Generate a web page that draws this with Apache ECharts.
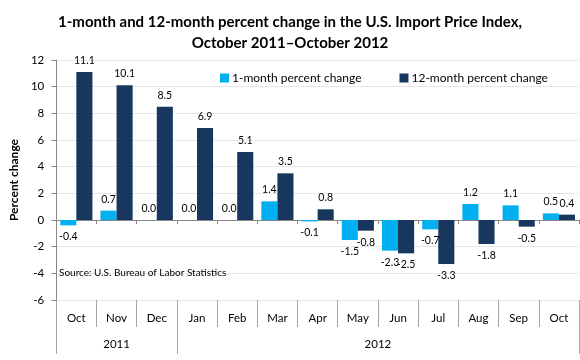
<!DOCTYPE html>
<html><head><meta charset="utf-8">
<script src="https://cdn.jsdelivr.net/npm/echarts@6/dist/echarts.min.js"></script>
<style>html,body{margin:0;padding:0;background:#fff}#c{width:580px;height:360px}</style>
</head><body><div id="c"></div>
<script>
const months = ['Oct','Nov','Dec','Jan','Feb','Mar','Apr','May','Jun','Jul','Aug','Sep','Oct'];
const yearNames = ['2011','2012'];
const yearStart = [0, 3];   // category index where each year starts
const yearEnd = [3, 13];
const oneMonth = [-0.4, 0.7, 0.0, 0.0, 0.0, 1.4, -0.1, -1.5, -2.3, -0.7, 1.2, 1.1, 0.5];
const twelveMonth = [11.1, 10.1, 8.5, 6.9, 5.1, 3.5, 0.8, -0.8, -2.5, -3.3, -1.8, -0.5, 0.4];
const yTicks = {min: -6, max: 12, interval: 2};

// half-step axis for year grouping (boundaryGap false, 0..13 in 0.5 steps)
const halfSteps = [];
for (let k = 0; k <= months.length * 2; k++) halfSteps.push('');
const tickSet = new Set(), labelMap = {};
yearNames.forEach((y, i) => {
  tickSet.add(yearStart[i] * 2); tickSet.add(yearEnd[i] * 2);
  const mid = yearStart[i] + yearEnd[i];
  labelMap[mid] = y; halfSteps[mid] = y;
});

const font = 'Lato, "Open Sans", sans-serif';
const lab = v => ({value: v, label: {position: v < 0 ? 'bottom' : 'top'}});
const chart = echarts.init(document.getElementById('c'), null, {renderer: 'canvas'});
chart.setOption({
  animation: false,
  textStyle: {fontFamily: font},
  title: [{
    text: '1-month and 12-month percent change in the U.S. Import Price Index,\nOctober 2011\u2013October 2012',
    left: 'center', top: 7,
    textStyle: {fontSize: 15, fontWeight: 'bold', color: '#000', lineHeight: 21, fontFamily: font}
  }, {
    text: 'Source: U.S. Bureau of Labor Statistics',
    left: 54, top: 263,
    textStyle: {fontSize: 10, fontWeight: 'normal', color: '#000', fontFamily: font}
  }],
  legend: {
    top: 67, left: 215, itemWidth: 9, itemHeight: 9, itemGap: 38,
    icon: 'rect',
    textStyle: {fontSize: 12, color: '#000', fontFamily: font, padding: [0,0,0,-2]},
    data: ['1-month percent change', '12-month percent change']
  },
  grid: {left: 41, right: 1, top: 60, bottom: 60, containLabel: false},
  xAxis: [{
    type: 'category', data: months, position: 'bottom',
    axisLine: {onZero: true, lineStyle: {color: '#898989'}},
    axisTick: {show: true, length: 4, lineStyle: {color: '#898989'}},
    axisLabel: {show: false}, splitLine: {show: false}
  }, {
    type: 'category', data: months, position: 'bottom', offset: 0,
    axisLine: {show: false},
    axisTick: {show: true, length: 27, lineStyle: {color: '#a6a6a6'}},
    axisLabel: {show: true, margin: 12, fontSize: 11.5, color: '#000', fontFamily: font},
    splitLine: {show: false}
  }, {
    type: 'category', data: halfSteps, position: 'bottom', boundaryGap: false, offset: 0,
    axisLine: {show: false},
    axisTick: {show: true, length: 54, lineStyle: {color: '#a6a6a6'},
      interval: (i) => tickSet.has(i)},
    axisLabel: {show: true, margin: 38, fontSize: 11.5, color: '#000', fontFamily: font,
      interval: (i) => labelMap[i] !== undefined},
    splitLine: {show: false}
  }],
  yAxis: {
    type: 'value', min: yTicks.min, max: yTicks.max, interval: yTicks.interval,
    name: 'Percent change', nameLocation: 'middle', nameGap: 31, nameRotate: 90,
    nameTextStyle: {fontSize: 12, fontWeight: 'bold', color: '#000', fontFamily: font},
    axisLine: {show: true, lineStyle: {color: '#898989'}},
    axisTick: {show: true, length: 5, lineStyle: {color: '#898989'}},
    axisLabel: {fontSize: 11.5, color: '#000', margin: 12, fontFamily: font},
    splitLine: {show: true, lineStyle: {color: '#e6e6e6'}}
  },
  series: [{
    name: '1-month percent change', type: 'bar', xAxisIndex: 0,
    data: oneMonth.map(lab), barGap: '0%', barCategoryGap: '20%',
    itemStyle: {color: '#00B0F0'},
    label: {show: true, fontSize: 10.5, color: '#000', distance: 6, fontFamily: font,
      formatter: p => p.value.toFixed(1)}
  }, {
    name: '12-month percent change', type: 'bar', xAxisIndex: 0,
    data: twelveMonth.map(lab), barGap: '0%', barCategoryGap: '20%',
    itemStyle: {color: '#17375E'},
    label: {show: true, fontSize: 10.5, color: '#000', distance: 6, fontFamily: font,
      formatter: p => p.value.toFixed(1)}
  }]
});
</script></body></html>
